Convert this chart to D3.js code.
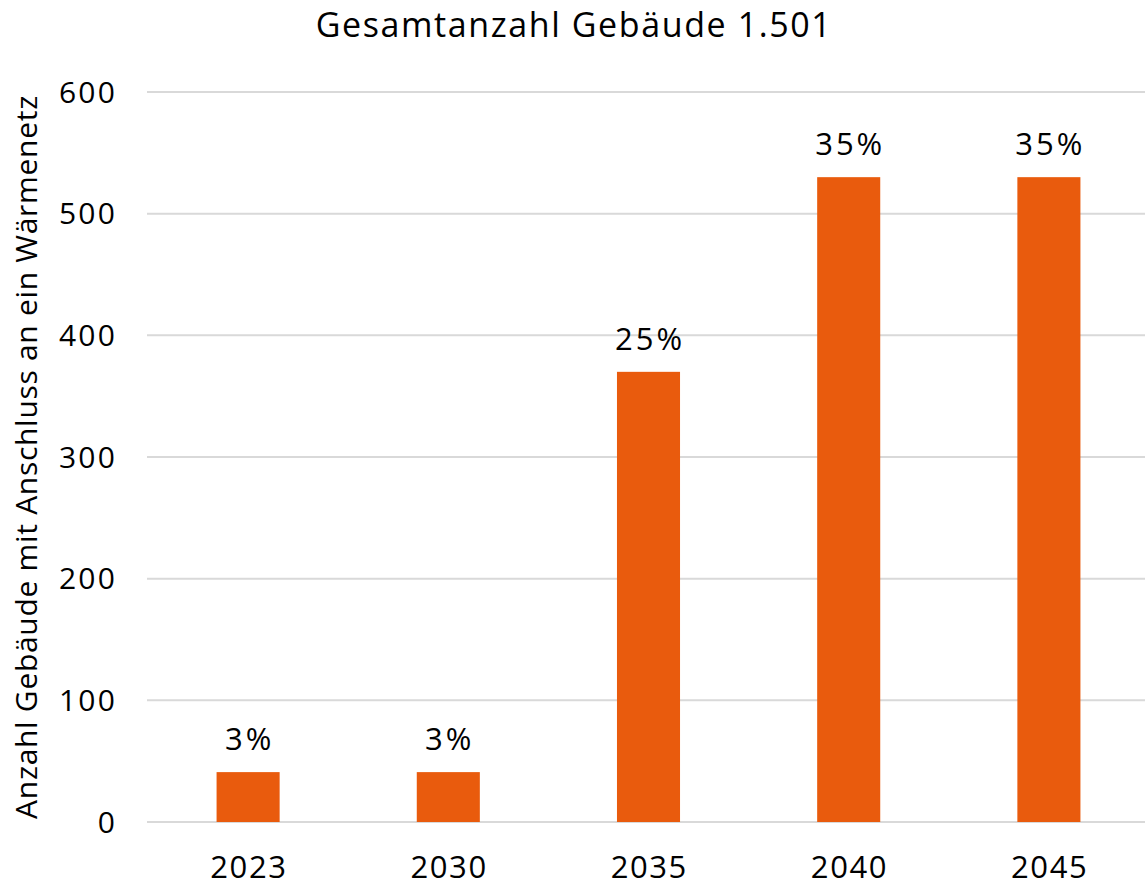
<!DOCTYPE html>
<html>
<head>
<meta charset="utf-8">
<script src="https://cdn.jsdelivr.net/npm/d3@7"></script>
<style>
  html, body { margin: 0; padding: 0; background: #fff; }
  svg { display: block; font-family: "Open Sans", "Noto Sans", sans-serif; }
</style>
</head>
<body>
<svg id="chart" width="1145" height="883"></svg>
<script>
// Buildings connected to a heating network per target year
const years = ["2023", "2030", "2035", "2040", "2045"];
const buildings = [41, 41, 370, 530, 530];
const shareLabels = ["3%", "3%", "25%", "35%", "35%"];
const yTicks = [0, 100, 200, 300, 400, 500, 600];
const titleText = "Gesamtanzahl Gebäude 1.501";
const yAxisTitle = "Anzahl Gebäude mit Anschluss an ein Wärmenetz";

const svg = d3.select("#chart");
const margin = { left: 148, right: -4, top: 92, bottom: 61 };
const W = 1145, H = 883;

const x = d3.scaleBand()
  .domain(years)
  .range([margin.left, W - margin.right])
  .paddingInner(0.685)
  .paddingOuter(0.3425);

const y = d3.scaleLinear()
  .domain([0, 600])
  .range([H - margin.bottom, margin.top]);

// horizontal gridlines
svg.append("g")
  .selectAll("line")
  .data(yTicks)
  .join("line")
  .attr("x1", 147)
  .attr("x2", W)
  .attr("y1", d => y(d))
  .attr("y2", d => y(d))
  .attr("stroke", "#d9d9d9")
  .attr("stroke-width", 2);

// y tick labels
svg.append("g")
  .selectAll("text")
  .data(yTicks)
  .join("text")
  .attr("x", 117)
  .attr("y", d => y(d))
  .attr("dy", "0.36em")
  .attr("text-anchor", "end")
  .attr("font-size", 30)
  .attr("letter-spacing", 2.2)
  .attr("fill", "#000")
  .text(d => d);

// bars
svg.append("g")
  .selectAll("rect")
  .data(years)
  .join("rect")
  .attr("x", d => x(d))
  .attr("width", x.bandwidth())
  .attr("y", (d, i) => y(buildings[i]))
  .attr("height", (d, i) => y(0) - y(buildings[i]))
  .attr("fill", "#e95b0d");

// share labels above bars
svg.append("g")
  .selectAll("text")
  .data(years)
  .join("text")
  .attr("x", d => x(d) + x.bandwidth() / 2 + 1.5)
  .attr("y", (d, i) => y(buildings[i]) - 22)
  .attr("text-anchor", "middle")
  .attr("font-size", 31)
  .attr("letter-spacing", 3)
  .attr("fill", "#000")
  .text((d, i) => shareLabels[i]);

// x axis labels
svg.append("g")
  .selectAll("text")
  .data(years)
  .join("text")
  .attr("x", d => x(d) + x.bandwidth() / 2 + 0.8)
  .attr("y", 878)
  .attr("text-anchor", "middle")
  .attr("font-size", 31)
  .attr("letter-spacing", 1.6)
  .attr("fill", "#000")
  .text(d => d);

// chart title
svg.append("text")
  .attr("x", 574)
  .attr("y", 37)
  .attr("text-anchor", "middle")
  .attr("font-size", 34)
  .attr("letter-spacing", 1.6)
  .attr("fill", "#000")
  .text(titleText);

// y axis title
svg.append("text")
  .attr("transform", `translate(37, ${(y(0) + y(600)) / 2}) rotate(-90)`)
  .attr("text-anchor", "middle")
  .attr("font-size", 30)
  .attr("letter-spacing", 0.7)
  .attr("fill", "#000")
  .text(yAxisTitle);
</script>
</body>
</html>
